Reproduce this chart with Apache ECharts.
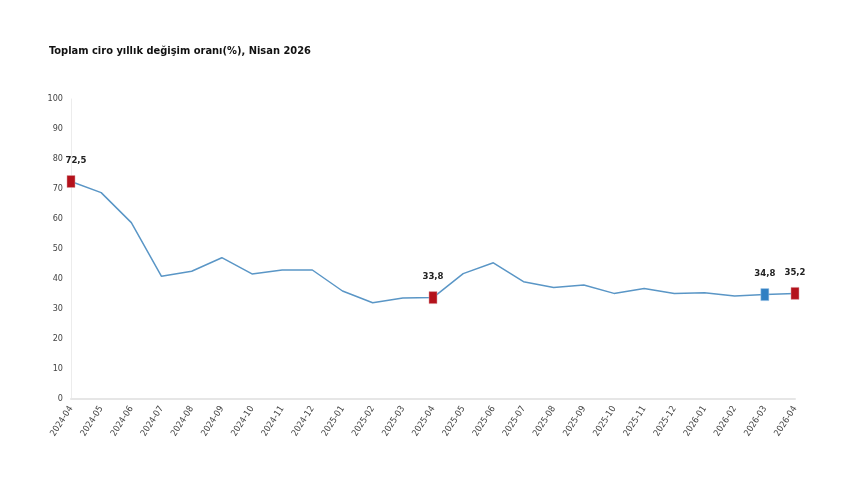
<!DOCTYPE html>
<html>
<head>
<meta charset="utf-8">
<style>
  html, body { margin: 0; padding: 0; background: #fff; }
  #main { width: 860px; height: 504px; }
</style>
<script src="https://cdn.jsdelivr.net/npm/echarts@6/dist/echarts.min.js"></script>
</head>
<body>
<div id="main"></div>
<script>
// aylar
const months = [
  "2024-04", "2024-05", "2024-06", "2024-07", "2024-08", "2024-09", "2024-10",
  "2024-11", "2024-12", "2025-01", "2025-02", "2025-03", "2025-04", "2025-05",
  "2025-06", "2025-07", "2025-08", "2025-09", "2025-10", "2025-11", "2025-12",
  "2026-01", "2026-02", "2026-03", "2026-04"
];
// yıllık değişim (%)
const values = [
  72.5, 68.8, 58.8, 40.9, 42.6, 47.1, 41.7, 43.0, 43.0, 36.0, 32.1, 33.7, 33.8,
  41.8, 45.4, 39.1, 37.2, 38.0, 35.2, 36.8, 35.2, 35.4, 34.3, 34.8, 35.2
];
const redPoints = [0, 12, 24];
const bluePoints = [23];
const yTicks = [0, 10, 20, 30, 40, 50, 60, 70, 80, 90, 100];

const FONT = "DejaVu Sans Condensed, Liberation Sans Narrow, sans-serif";
const fmt = (v) => String(v.toFixed(1)).replace(".", ",");

const seriesData = values.map((v, i) => {
  const isRed = redPoints.includes(i);
  const isBlue = bluePoints.includes(i);
  if (!isRed && !isBlue) return v;
  return {
    value: v,
    symbol: "rect",
    symbolSize: [8, 12],
    itemStyle: { color: isRed ? "#b4121c" : "#2f7fc3", borderColor: isRed ? "#d9a0a4" : "#9cc3e6", borderWidth: 0.5 },
    label: {
      show: true,
      position: "top",
      distance: 10,
      offset: i === 0 ? [5, 0] : [0, 0],
      formatter: () => fmt(v),
      fontFamily: FONT,
      fontWeight: "bold",
      fontSize: 9.5,
      color: "#222",
    },
  };
});

const chartDom = document.getElementById("main");
const myChart = echarts.init(chartDom);
const option = {
  animation: false,
  title: {
    text: "Toplam ciro yıllık değişim oranı(%), Nisan 2026",
    left: 44,
    top: 41,
    textStyle: {
      fontFamily: FONT,
      fontSize: 11,
      fontWeight: "bold",
      color: "#111",
    },
  },
  grid: {
    left: 71,
    right: 65,
    top: 99,
    bottom: 105,
    containLabel: false,
  },
  xAxis: {
    type: "category",
    boundaryGap: false,
    data: months,
    axisLine: { show: true, lineStyle: { color: "#e6e6e6", width: 2 } },
    axisTick: { show: false },
    axisLabel: {
      rotate: 57,
      interval: 0,
      margin: 8,
      fontSize: 9,
      color: "#444",
      fontFamily: FONT,
    },
  },
  yAxis: {
    type: "value",
    min: yTicks[0],
    max: yTicks[yTicks.length - 1],
    interval: 10,
    axisLine: { show: true, lineStyle: { color: "#ececec", width: 1 } },
    axisTick: { show: false },
    splitLine: { show: false },
    axisLabel: {
      margin: 8,
      fontSize: 9,
      color: "#444",
      fontFamily: FONT,
    },
  },
  series: [
    {
      type: "line",
      data: seriesData,
      symbol: "none",
      lineStyle: { color: "#5a96c6", width: 1.5 },
      itemStyle: { color: "#5a96c6" },
      z: 2,
    },
  ],
};
myChart.setOption(option);
</script>
</body>
</html>
